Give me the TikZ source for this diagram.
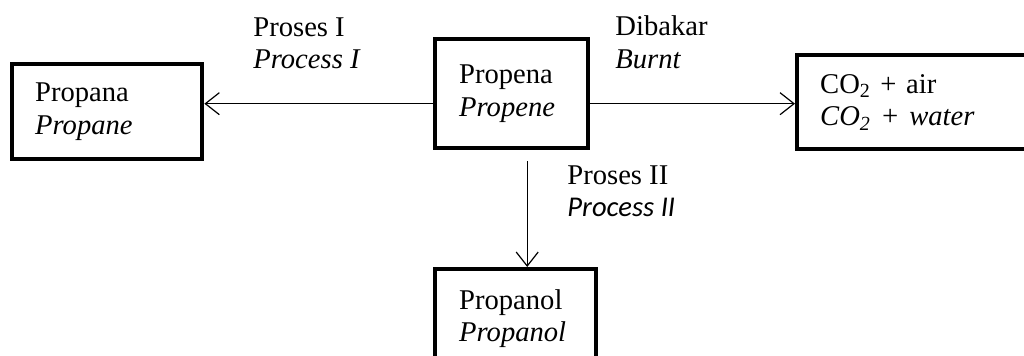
\documentclass[tikz,border=0pt]{standalone}
\usepackage{fontspec}
\setmainfont{Liberation Serif}
\newfontfamily\calibrifont{Carlito}
\usetikzlibrary{arrows.meta,positioning}

\begin{document}
\begin{tikzpicture}[x=0.5pt, y=-0.5pt,
        every node/.style={font=\fontsize{14.3}{16.4}\selectfont},
        chembox/.style={draw, line width=2.2pt, anchor=north west, align=left, inner ysep=0pt},
        lbl/.style={anchor=north west, align=left, inner sep=0pt},
        arr/.style={-{Straight Barb[length=7pt, width=11pt]}, line width=0.6pt}]
        % Frame of the page (right and bottom boxes run off it)
        \useasboundingbox (0,0) rectangle (1024,356);
        \clip (0,0) rectangle (1024,356);
        % Starting compound
        \node[chembox, minimum height=54.5pt, inner xsep=12pt, text width=52.5pt] (propene) at (433,37) {Propena \\ \textit{Propene}};
        % Products
        \node[chembox, minimum height=47.5pt, inner xsep=11.5pt, text width=72pt] (propana) at (10,62) {Propana \\ \textit{Propane}};
        \node[chembox, minimum height=47pt, inner xsep=11.5pt, text width=107pt] (co2) at (795,53) {CO\textsubscript{2} + air \\ \textit{CO\textsubscript{2} + water}};
        \node[chembox, inner xsep=12pt, inner ysep=10pt, text width=56.5pt] (propanol) at (433,267) {Propanol \\ \textit{Propanol}};
        % Reaction labels
        \node[lbl] (proc1) at (253,17) {Proses I \\ \textit{Process I}};
        \node[lbl] (burn) at (615,15) {Dibakar \\ \textit{Burnt}};
        \node[lbl] (proc2) at (567,165) {Proses II \\ {\calibrifont\itshape Process II}};
        % Reaction arrows
        \draw[arr] ([yshift=-5pt]propene.west) coordinate (pw) -- (propana.east |- pw);
        \draw[arr] ([yshift=-5pt]propene.east) coordinate (pe) -- (co2.west |- pe);
        \draw[arr, shorten <=5.5pt] ([xshift=7.75pt]propene.south) coordinate (ps) -- (ps |- propanol.north);
    \end{tikzpicture}
\end{document}
